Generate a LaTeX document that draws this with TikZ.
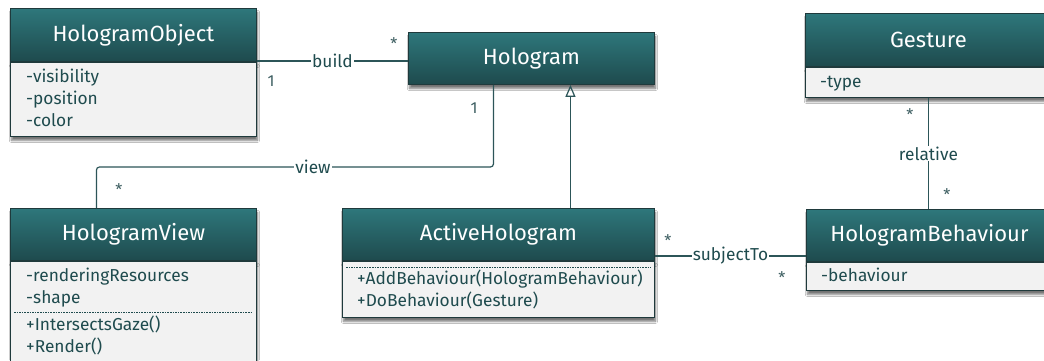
\documentclass[tikz,border=0pt]{standalone}
\usepackage{fontspec}
\setmainfont{Fira Sans}
\usetikzlibrary{shadows.blur,arrows.meta}
\definecolor{hdtop}{HTML}{2E777B}
\definecolor{hdbot}{HTML}{1E4A4D}
\definecolor{edge}{HTML}{1F3A3C}
\definecolor{bodyfill}{HTML}{F2F2F2}
\definecolor{ink}{HTML}{1F4B4E}
\definecolor{wirecol}{HTML}{2C5558}
\definecolor{multcol}{HTML}{3E5F62}

\begin{document}
\begin{tikzpicture}[x=1pt,y=-1pt,
  shade/.style={blur shadow={shadow xshift=1pt, shadow yshift=-4pt, shadow opacity=55, shadow blur steps=6}},
  classhead/.style={shade, draw=edge, line width=0.9pt, top color=hdtop, bottom color=hdbot,
    text=white, font=\fontsize{22}{25}\selectfont, minimum height=53pt, inner sep=0pt, anchor=north west},
  classbody/.style={shade, draw=edge, line width=0.9pt, fill=bodyfill, inner sep=0pt, anchor=north west},
  member/.style={text=ink, font=\fontsize{17.3}{20}\selectfont, inner sep=0pt, anchor=base west},
  wire/.style={draw=wirecol, line width=1.2pt},
  sepline/.style={draw=ink, line width=0.8pt, dash pattern=on 1.6pt off 1pt},
  tag/.style={text=ink, font=\fontsize{17.3}{19}\selectfont, fill=white, inner xsep=1pt, inner ysep=1pt},
  multi/.style={text=multcol, font=\fontsize{16}{18}\selectfont, inner sep=0pt},
]
\useasboundingbox (0,0) rectangle (1044,360);
\fill[white] (0,0) rectangle (1044,360);
\clip (0,0) rectangle (1044,360);

% HologramObject
\node[classhead, minimum width=246pt] (ho) at (10,8) {HologramObject};
\node[classbody, minimum width=246pt, minimum height=74pt] (hob) at (ho.south west) {};
\node[member] (ho1) at ([xshift=16pt, yshift=-21pt]hob.north west) {-visibility};
\node[member] (ho2) at ([yshift=-22pt]ho1.base west) {-position};
\node[member] (ho3) at ([yshift=-22pt]ho2.base west) {-color};

% Hologram
\node[classhead, minimum width=246pt, minimum height=52pt] (hg) at (408,32) {Hologram};

% Gesture
\node[classhead, minimum width=246pt] (ge) at (805,13) {Gesture};
\node[classbody, minimum width=246pt, minimum height=30pt] (geb) at (ge.south west) {};
\node[member] (ge1) at ([xshift=15pt, yshift=-21pt]geb.north west) {-type};

% HologramView
\node[classhead, minimum width=246pt, minimum height=52pt] (hv) at (10,208) {HologramView};
\node[classbody, minimum width=246pt, minimum height=120pt] (hvb) at (hv.south west) {};
\node[member] (hv1) at ([xshift=16pt, yshift=-21pt]hvb.north west) {-renderingResources};
\node[member] (hv2) at ([yshift=-22pt]hv1.base west) {-shape};
\draw[sepline] ([xshift=4pt, yshift=-51pt]hvb.north west) -- ([xshift=-4pt, yshift=-51pt]hvb.north east);
\node[member] (hv3) at ([yshift=-27pt]hv2.base west) {+IntersectsGaze()};
\node[member] (hv4) at ([yshift=-22pt]hv3.base west) {+Render()};

% ActiveHologram
\node[classhead, minimum width=312pt, minimum height=52pt] (ah) at (342,208) {ActiveHologram};
\node[classbody, minimum width=312pt, minimum height=56pt] (ahb) at (ah.south west) {};
\draw[sepline] ([xshift=4pt, yshift=-6pt]ahb.north west) -- ([xshift=-4pt, yshift=-6pt]ahb.north east);
\node[member] (ah1) at ([xshift=15pt, yshift=-24pt]ahb.north west) {+AddBehaviour(HologramBehaviour)};
\node[member] (ah2) at ([yshift=-22pt]ah1.base west) {+DoBehaviour(Gesture)};

% HologramBehaviour
\node[classhead, minimum width=246pt, minimum height=52pt] (hb) at (806,209) {HologramBehaviour};
\node[classbody, minimum width=246pt, minimum height=28pt] (hbb) at (hb.south west) {};
\node[member] (hb1) at ([xshift=15pt, yshift=-20pt]hbb.north west) {-behaviour};

% build association
\draw[wire] ([yshift=1pt]ho.south east) -- ([yshift=1pt]ho.south east -| hg.west)
  node[tag, pos=0.5] (build) {build};
\node[multi] (m1) at (271,81) {1};
\node[multi] (m2) at (394,44) {*};

% view association
\draw[wire, rounded corners=3pt] ([xshift=-38pt]hg.south) |- ([xshift=-37pt, yshift=41pt]hv.north)
  -- ([xshift=-37pt]hv.north);
\node[tag] (view) at (313,167) {view};
\node[multi] (m3) at (474,108) {1};
\node[multi] (m4) at (119,190) {*};

% generalization
\draw[wire, -{Triangle[open, width=10pt, length=12pt, line width=1.2pt]}]
  ([xshift=72pt]ah.north) -- ([xshift=72pt]ah.north |- hg.south);

% subjectTo association
\draw[wire] ([yshift=5pt]ah.south east) -- ([yshift=5pt]ah.south east -| hb.west)
  node[tag, pos=0.5] (subj) {subjectTo};
\node[multi] (m5) at (668,241) {*};
\node[multi] (m6) at (782,278) {*};

% relative association
\draw[wire] (geb.south) -- (hb.north -| geb.south) node[tag, pos=0.5] (rel) {relative};
\node[multi] (m7) at (910,115) {*};
\node[multi] (m8) at (947,195) {*};
\end{tikzpicture}
\end{document}
